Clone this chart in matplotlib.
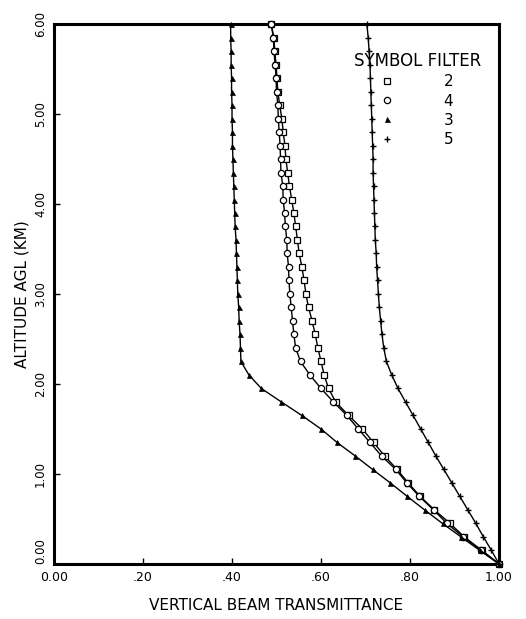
import matplotlib
matplotlib.use("Agg")
import matplotlib.pyplot as plt
from matplotlib.lines import Line2D

# altitude (km) of every plotted point
altitude = [0.00, 0.15, 0.30, 0.45, 0.60, 0.75, 0.90, 1.05, 1.20, 1.35,
            1.50, 1.65, 1.80, 1.95, 2.10, 2.25, 2.40, 2.55, 2.70, 2.85,
            3.00, 3.15, 3.30, 3.45, 3.60, 3.75, 3.90, 4.05, 4.20, 4.35,
            4.50, 4.65, 4.80, 4.95, 5.10, 5.25, 5.40, 5.55, 5.70, 5.85, 6.00]

# vertical beam transmittance per filter
filter2 = [1.000, 0.962, 0.922, 0.890, 0.855, 0.823, 0.796, 0.771, 0.743, 0.718,
           0.693, 0.662, 0.633, 0.617, 0.607, 0.600, 0.593, 0.587, 0.580, 0.572,
           0.566, 0.562, 0.557, 0.551, 0.547, 0.543, 0.539, 0.534, 0.529, 0.525,
           0.521, 0.519, 0.515, 0.512, 0.507, 0.503, 0.501, 0.499, 0.496, 0.494, 0.488]
filter4 = [1.000, 0.960, 0.920, 0.883, 0.853, 0.821, 0.793, 0.768, 0.736, 0.710,
           0.684, 0.658, 0.628, 0.600, 0.575, 0.554, 0.543, 0.539, 0.536, 0.533,
           0.530, 0.528, 0.527, 0.524, 0.523, 0.520, 0.518, 0.515, 0.514, 0.510,
           0.509, 0.508, 0.506, 0.504, 0.503, 0.500, 0.499, 0.497, 0.494, 0.493, 0.488]
filter3 = [1.000, 0.957, 0.915, 0.873, 0.833, 0.794, 0.756, 0.716, 0.677, 0.636,
           0.600, 0.557, 0.511, 0.466, 0.438, 0.420, 0.419, 0.418, 0.416, 0.415,
           0.413, 0.412, 0.411, 0.410, 0.409, 0.407, 0.406, 0.405, 0.404, 0.403,
           0.402, 0.401, 0.401, 0.400, 0.400, 0.399, 0.399, 0.398, 0.398, 0.397, 0.397]
filter5 = [1.000, 0.983, 0.965, 0.948, 0.930, 0.912, 0.894, 0.876, 0.858, 0.841,
           0.824, 0.807, 0.790, 0.773, 0.759, 0.747, 0.741, 0.737, 0.734, 0.731,
           0.729, 0.727, 0.725, 0.724, 0.722, 0.721, 0.720, 0.719, 0.718, 0.717,
           0.717, 0.716, 0.715, 0.714, 0.713, 0.712, 0.711, 0.710, 0.708, 0.706, 0.703]

filter_labels = ['2', '4', '3', '5']
x_ticks = [0.0, 0.2, 0.4, 0.6, 0.8, 1.0]
x_ticklabels = ['0.00', '.20', '.40', '.60', '.80', '1.00']
y_ticks = [0, 1, 2, 3, 4, 5, 6]
y_ticklabels = ['0.00', '1.00', '2.00', '3.00', '4.00', '5.00', '6.00']

plt.rcParams['font.family'] = ['DejaVu Sans']

fig = plt.figure(figsize=(5.26, 6.19), dpi=100)
ax = fig.add_axes([0.1027, 0.0889, 0.846, 0.8723])

styles = [
    dict(marker='s', ms=4.5, mfc='white', mec='black', mew=0.9),
    dict(marker='o', ms=4.5, mfc='white', mec='black', mew=0.9),
    dict(marker='^', ms=3.6, mfc='black', mec='black', mew=0.5),
    dict(marker='+', ms=4.0, mfc='black', mec='black', mew=1.0),
]
series = [filter2, filter4, filter3, filter5]

for values, st in zip(series, styles):
    ax.plot(values, altitude, color='black', lw=1.0, clip_on=False, zorder=3, **st)

ax.set_xlim(0, 1.0)
ax.set_ylim(0, 6.0)
ax.set_xticks(x_ticks)
ax.set_xticklabels(x_ticklabels, fontsize=9)
ax.set_yticks(y_ticks)
ax.set_yticklabels(y_ticklabels, fontsize=8.5, rotation=90, va='center')
# lift the bottom y label so it only touches the x axis "0.00"
ax.get_yticklabels()[0].set_va('bottom')
ax.tick_params(direction='in', length=4, width=1, pad=5)

for sp in ax.spines.values():
    sp.set_linewidth(2.2)

ax.set_xlabel('VERTICAL BEAM TRANSMITTANCE', fontsize=11, labelpad=10)
ax.set_ylabel('ALTITUDE AGL (KM)', fontsize=11, labelpad=3)

# legend: symbol on the left, filter number on the right
handles = [Line2D([], [], linestyle='none', color='black', **st) for st in styles]
leg = ax.legend(handles, filter_labels, title='SYMBOL FILTER', frameon=False,
                loc='upper right', bbox_to_anchor=(0.985, 0.968),
                fontsize=11, title_fontsize=12, handlelength=0.6,
                handletextpad=3.4, labelspacing=0.28, borderpad=0.2)

fig.savefig('out.png', dpi=100)
